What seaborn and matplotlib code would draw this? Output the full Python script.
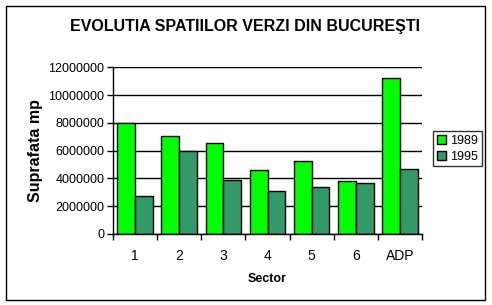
import matplotlib
matplotlib.use("Agg")
import matplotlib.pyplot as plt
import matplotlib.patches as mpatches
from matplotlib.ticker import FuncFormatter, MultipleLocator, FixedLocator
import seaborn as sns
import pandas as pd

sectors = ["1", "2", "3", "4", "5", "6", "ADP"]
values_1989 = [8000000, 7030000, 6520000, 4580000, 5230000, 3790000, 11200000]
values_1995 = [2700000, 5950000, 3860000, 3070000, 3380000, 3650000, 4650000]
years = ["1989", "1995"]
colors = ["#00FF00", "#339966"]

df = pd.DataFrame({
    "Sector": sectors * 2,
    "An": [years[0]] * len(sectors) + [years[1]] * len(sectors),
    "Suprafata": values_1989 + values_1995,
})

sns.set_style("white")
plt.rcParams["font.family"] = ["Liberation Sans", "DejaVu Sans"]
plt.rcParams["text.color"] = "black"
plt.rcParams["axes.labelcolor"] = "black"
plt.rcParams["xtick.color"] = "black"
plt.rcParams["ytick.color"] = "black"

W, H = 492, 305
fig = plt.figure(figsize=(W / 100, H / 100), dpi=100)
ax = fig.add_axes([112.7 / W, 1 - 234 / H, (422.3 - 112.7) / W, (234 - 67.3) / H])

sns.barplot(data=df, x="Sector", y="Suprafata", hue="An", order=sectors,
            hue_order=years, palette=colors, edgecolor="black", linewidth=1.0,
            width=0.8, saturation=1, ax=ax, legend=True)

ax.set_ylim(0, 12000000)
ax.set_xlim(-0.5, len(sectors) - 0.5)
ax.yaxis.set_major_locator(MultipleLocator(2000000))
ax.yaxis.set_major_formatter(FuncFormatter(lambda v, p: f"{int(v)}"))
ax.grid(axis="y", color="black", linewidth=1.0)
ax.set_axisbelow(True)
for s in ["top", "right"]:
    ax.spines[s].set_visible(False)
for s in ["left", "bottom"]:
    ax.spines[s].set_color("black")
    ax.spines[s].set_linewidth(1.0)

ax.tick_params(axis="y", which="major", length=4, width=1, color="black",
               direction="out", labelsize=9, pad=2, left=True)
ax.tick_params(axis="x", which="major", length=0, labelsize=10, pad=11)
ax.xaxis.set_minor_locator(FixedLocator([i - 0.5 for i in range(len(sectors) + 1)]))
ax.tick_params(axis="x", which="minor", length=4, width=1, color="black",
               direction="out", bottom=True)

ax.set_xlabel("Sector", fontsize=9, fontweight="bold", labelpad=7)
ax.set_ylabel("Suprafata mp", fontsize=11.5, fontweight="bold", labelpad=4)

handles, labels = ax.get_legend_handles_labels()
ax.get_legend().remove()
fig.legend(handles, labels, loc="upper left",
           bbox_to_anchor=(433 / W, 1 - 131 / H), frameon=True, fontsize=9,
           handlelength=0.75, handleheight=0.75, handletextpad=0.35,
           borderpad=0.3, labelspacing=0.3, fancybox=False,
           edgecolor="black", borderaxespad=0)
fig.legends[0].get_frame().set_linewidth(1.0)

fig.text(0.5 * (5 + 484) / W, 1 - 26 / H, "EVOLUTIA SPATIILOR VERZI DIN BUCUREŞTI",
         ha="center", va="center", fontsize=11.5, fontweight="bold")

fig.patches.append(mpatches.Rectangle((5.5 / W, 1 - 299.5 / H), 479 / W, 294 / H,
                                      transform=fig.transFigure, fill=False,
                                      edgecolor="black", linewidth=1.0))

fig.savefig("out.png", dpi=100)
